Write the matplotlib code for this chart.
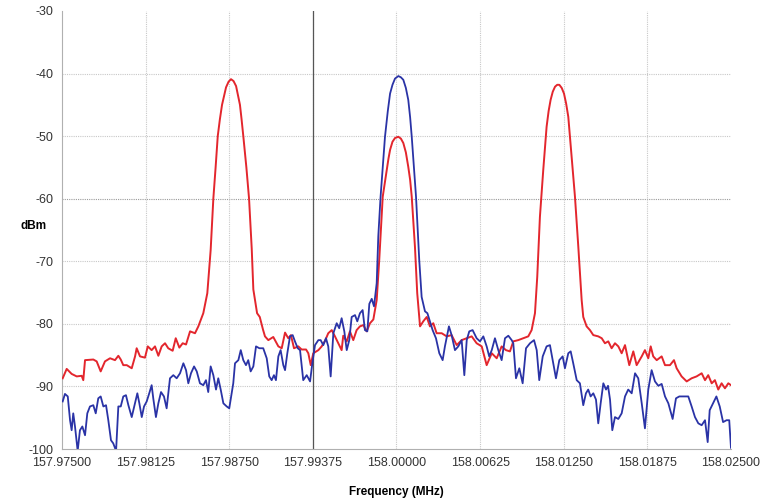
import numpy as np
import matplotlib
matplotlib.use("Agg")
import matplotlib.pyplot as plt

# offsets from the 158 MHz centre, in kHz, and level in dBm
red_khz = [-24.95, -24.65, -24.28, -23.90, -23.53, -23.41, -23.28, -22.66, -22.41, -22.11,
           -21.79, -21.41, -21.04, -20.79, -20.61, -20.42, -20.16, -19.79, -19.54, -19.42,
           -19.17, -18.80, -18.59, -18.30, -18.05, -17.80, -17.55, -17.30, -17.06, -16.73,
           -16.50, -16.23, -15.98, -15.73, -15.43, -15.06, -14.81, -14.44, -14.14, -13.89,
           -13.69, -13.52, -13.36, -13.20, -13.04, -12.74, -12.55, -12.37, -12.18, -11.99,
           -11.70, -11.58, -11.45, -11.22, -11.02, -10.82,
           -10.70, -10.42, -10.22, -9.98, -9.83, -9.58, -9.21, -8.83, -8.58, -8.33,
           -8.09, -7.89, -7.66, -7.34, -7.09, -6.76, -6.59, -6.41, -6.22, -5.84,
           -5.59, -5.34, -5.10, -4.84, -4.60, -4.35, -4.10, -3.98, -3.72, -3.48,
           -3.23, -2.98, -2.73, -2.48, -2.23, -1.98, -1.73, -1.48, -1.29, -1.03,
           -0.73, -0.60, -0.48, -0.30, -0.11, 0.14, 0.33, 0.51, 0.70, 0.88,
           1.02, 1.14, 1.38, 1.55, 1.76,
           2.00, 2.26, 2.50, 2.75, 3.00, 3.38, 3.75, 4.12, 4.50, 4.87,
           5.25, 5.62, 5.99, 6.37, 6.74, 7.12, 7.49, 7.86, 8.18, 8.48,
           8.73, 9.10, 9.48, 9.85, 10.10, 10.35, 10.52, 10.72, 10.97, 11.22,
           11.37, 11.52, 11.68, 11.85, 12.01, 12.17, 12.35, 12.52, 12.68, 12.84,
           13.09, 13.34, 13.59, 13.84, 13.96,
           14.21, 14.46, 14.71, 15.08, 15.34, 15.58, 15.83, 16.08, 16.33, 16.58,
           16.83, 17.08, 17.40, 17.70, 17.95, 18.33, 18.57, 18.82, 19.00, 19.19,
           19.45, 19.82, 20.07, 20.44, 20.74, 20.94, 21.31, 21.69, 22.06, 22.43,
           22.81, 23.06, 23.30, 23.56, 23.80, 24.05, 24.30, 24.55, 24.80, 25.00]
red_dbm = [-88.7, -87.2, -88.0, -88.4, -88.3, -89.0, -85.8, -85.7, -86.0, -87.6,
           -86.0, -85.5, -85.8, -85.1, -85.7, -86.6, -86.6, -87.1, -85.2, -83.9,
           -85.2, -85.4, -83.6, -84.2, -83.6, -85.1, -83.6, -83.1, -83.9, -84.3,
           -82.3, -83.8, -83.1, -83.3, -81.2, -81.5, -80.4, -78.3, -75.1, -68.2,
           -60.0, -55.0, -50.0, -47.3, -45.0, -42.2, -41.3, -40.9, -41.2, -42.0,
           -45.0, -47.3, -50.0, -55.0, -60.0, -68.0,
           -74.5, -78.3, -78.9, -80.9, -82.0, -82.6, -82.1, -83.6, -83.9, -81.4,
           -82.3, -81.8, -83.9, -83.6, -84.1, -84.1, -84.7, -86.6, -84.7, -84.2,
           -83.6, -82.7, -81.5, -81.0, -82.0, -83.1, -84.2, -81.9, -82.8, -81.2,
           -82.6, -81.0, -80.4, -80.2, -81.2, -79.9, -79.3, -76.2, -69.8, -59.7,
           -55.4, -53.6, -52.2, -50.9, -50.3, -50.1, -50.4, -51.1, -52.6, -54.9,
           -57.0, -59.7, -67.7, -75.1, -80.4,
           -79.6, -78.9, -80.4, -79.9, -81.5, -81.5, -82.0, -81.8, -83.4, -82.6,
           -82.3, -82.0, -83.1, -83.6, -86.6, -84.7, -85.5, -83.6, -84.2, -84.4,
           -82.8, -82.6, -82.3, -82.0, -81.0, -78.3, -72.5, -62.9, -55.4, -48.5,
           -46.0, -44.2, -42.9, -42.1, -41.8, -41.8, -42.3, -43.2, -44.8, -46.9,
           -53.3, -59.7, -67.7, -76.2, -78.9,
           -80.4, -81.0, -81.8, -82.0, -82.3, -83.1, -82.8, -83.9, -83.1, -83.6,
           -84.7, -83.4, -86.6, -84.4, -86.6, -85.2, -84.2, -85.5, -83.6, -85.2,
           -85.8, -85.2, -86.6, -86.6, -85.8, -87.1, -88.4, -89.2, -88.7, -88.4,
           -87.9, -89.0, -88.2, -89.5, -89.0, -90.5, -89.5, -90.3, -89.5, -89.8]

blue_khz = [-24.95, -24.78, -24.57, -24.40, -24.28, -24.16, -24.03, -23.83, -23.66, -23.48,
            -23.28, -23.11, -22.91, -22.66, -22.48, -22.29, -22.11, -21.91, -21.71, -21.54,
            -21.34, -21.17, -20.96, -20.79, -20.61, -20.42, -20.22, -20.04, -19.79, -19.60,
            -19.37, -19.22, -19.04, -18.87, -18.67, -18.48, -18.30, -18.18, -17.98, -17.80,
            -17.60, -17.38, -17.18, -16.93, -16.68, -16.43, -16.18, -15.93, -15.73, -15.56,
            -15.36, -15.13, -14.93, -14.69, -14.44, -14.24, -14.07, -13.89, -13.69, -13.49,
            -13.32, -13.14, -12.94, -12.69, -12.50, -12.32, -12.20, -12.07, -11.82, -11.64,
            -11.45, -11.25, -11.08, -10.90, -10.70, -10.50, -10.25, -9.96, -9.70, -9.51,
            -9.33, -9.16, -9.01, -8.83, -8.66, -8.46, -8.33, -8.16, -7.96, -7.76,
            -7.59, -7.38, -7.21, -6.97, -6.71, -6.46, -6.29, -6.09, -5.84, -5.67,
            -5.47, -5.27, -5.10, -4.92, -4.72, -4.47, -4.28, -4.10, -3.90, -3.72,
            -3.53, -3.35, -3.10, -2.93, -2.73, -2.53, -2.36, -2.18, -2.03, -1.85,
            -1.68, -1.48, -1.36, -1.19, -0.86, -0.65, -0.48, -0.30, -0.11, 0.14,
            0.33, 0.51, 0.70, 0.88, 1.02,
            1.14, 1.46, 1.70, 1.88, 2.13, 2.31, 2.50, 2.70, 2.95, 3.20,
            3.45, 3.62, 3.92, 4.12, 4.37, 4.62, 4.87, 5.07, 5.25, 5.44,
            5.69, 5.99, 6.24, 6.49, 6.74, 6.93, 7.12, 7.36, 7.61, 7.86,
            8.11, 8.36, 8.61, 8.73, 8.93, 9.18, 9.43, 9.68, 9.98, 10.28,
            10.48, 10.67, 10.93, 11.22, 11.47, 11.67, 11.92, 12.17, 12.42, 12.59,
            12.84, 13.02, 13.21, 13.47, 13.71, 13.96, 14.16, 14.33, 14.51, 14.71,
            14.91, 15.08, 15.26, 15.46, 15.66, 15.81, 15.96, 16.13, 16.33, 16.58,
            16.83, 17.08, 17.32, 17.58, 17.83, 18.07, 18.33, 18.57, 18.82, 19.07,
            19.32, 19.57, 19.82, 20.07, 20.32, 20.64, 20.89, 21.14, 21.43, 21.81,
            22.06, 22.31, 22.56, 22.81, 23.06, 23.26, 23.41, 23.66, 23.91, 24.16,
            24.41, 24.67, 24.87, 25.00]
blue_dbm = [-92.4, -91.2, -91.6, -95.4, -97.0, -94.3, -96.4, -100.3, -97.0, -96.4,
            -97.8, -94.3, -93.2, -93.0, -94.3, -91.9, -91.6, -93.2, -93.0, -95.4,
            -98.6, -99.1, -100.3, -93.2, -93.2, -91.6, -91.4, -93.0, -94.9, -93.2,
            -91.1, -92.7, -94.9, -93.2, -92.4, -91.1, -89.8, -91.9, -94.9, -92.7,
            -90.9, -91.6, -93.5, -88.7, -88.2, -88.7, -87.9, -86.3, -87.4, -89.5,
            -87.9, -86.8, -87.6, -89.5, -89.8, -89.0, -90.9, -86.8, -88.2, -90.5,
            -88.7, -90.5, -92.7, -93.2, -93.5, -91.1, -89.5, -86.3, -85.8, -84.2,
            -85.8, -86.6, -85.8, -87.6, -86.8, -83.6, -83.9, -83.9, -85.5, -88.4,
            -89.0, -88.2, -89.0, -85.2, -84.2, -86.6, -87.4, -84.7, -82.0, -81.8,
            -82.8, -83.9, -84.2, -89.0, -88.2, -89.2, -86.3, -83.4, -82.6, -82.6,
            -83.4, -82.3, -83.6, -88.4, -81.5, -79.9, -80.7, -79.1, -81.2, -84.2,
            -82.6, -78.9, -78.6, -79.6, -78.3, -77.8, -81.0, -81.2, -76.8, -76.0,
            -77.2, -73.5, -66.0, -59.7, -50.1, -46.0, -43.2, -41.8, -40.8, -40.4,
            -40.6, -41.0, -42.3, -44.2, -47.0,
            -50.1, -59.7, -69.8, -75.7, -78.0, -78.3, -79.6, -81.0, -82.3, -84.7,
            -85.8, -83.6, -80.4, -81.8, -84.2, -83.6, -82.6, -88.2, -82.6, -81.2,
            -81.0, -82.3, -82.8, -82.0, -83.6, -85.2, -84.2, -82.3, -84.2, -85.8,
            -82.3, -81.9, -82.6, -83.1, -88.7, -87.1, -89.5, -83.9, -83.1, -82.6,
            -84.2, -89.0, -85.2, -83.6, -83.4, -85.8, -88.7, -85.8, -85.2, -87.1,
            -84.7, -84.4, -86.3, -89.0, -89.5, -93.0, -91.1, -90.5, -91.6, -91.1,
            -92.1, -95.9, -92.7, -89.5, -90.5, -89.9, -92.1, -97.0, -94.9, -95.2,
            -94.3, -91.6, -90.5, -91.1, -87.9, -88.7, -92.7, -96.7, -90.5, -87.4,
            -89.2, -89.9, -89.6, -91.6, -92.7, -95.2, -91.9, -91.6, -91.6, -91.6,
            -93.2, -94.9, -95.9, -96.2, -95.4, -98.9, -93.8, -92.7, -91.6, -93.2,
            -95.7, -95.4, -95.4, -99.8]

x_ticks = [157.97500, 157.98125, 157.98750, 157.99375, 158.00000,
           158.00625, 158.01250, 158.01875, 158.02500]
y_ticks = [-100, -90, -80, -70, -60, -50, -40, -30]


def main():
    plt.rcParams['font.family'] = ['Liberation Sans', 'DejaVu Sans']
    plt.rcParams['axes.unicode_minus'] = False
    fig = plt.figure(figsize=(7.6, 4.99), dpi=100)
    ax = fig.add_axes([0.0816, 0.1002, 0.8802, 0.8778])

    red_f = 158.0 + np.array(red_khz) / 1000.0
    blue_f = 158.0 + np.array(blue_khz) / 1000.0

    ax.plot(red_f, red_dbm, color='#e3262d', lw=1.4, zorder=3, solid_joinstyle='round')
    ax.plot(blue_f, blue_dbm, color='#2a33a6', lw=1.3, zorder=4, solid_joinstyle='round')

    ax.set_xlim(x_ticks[0], x_ticks[-1])
    ax.set_ylim(-100, -30)
    ax.set_xticks(x_ticks)
    ax.set_xticklabels(['%.5f' % v for v in x_ticks])
    ax.set_yticks(y_ticks)
    ax.tick_params(length=0, labelsize=9, colors='#333333', pad=6)

    # dotted light grid, no line on top/right edge
    for y in y_ticks[1:-1]:
        c = '#9a9a9a' if y == -60 else '#c8c8c8'
        ax.axhline(y, color=c, lw=0.8, ls=(0, (1, 1)), zorder=1)
    for x in x_ticks[1:-1]:
        ax.axvline(x, color='#c8c8c8', lw=0.8, ls=(0, (1, 1)), zorder=1)
    ax.axvline(x_ticks[3], color='#555555', lw=0.9, zorder=2)

    for side in ['top', 'right']:
        ax.spines[side].set_visible(False)
    for side in ['left', 'bottom']:
        ax.spines[side].set_color('#b0b0b0')
        ax.spines[side].set_linestyle((0, (1, 1)))
        ax.spines[side].set_linewidth(0.8)

    ax.set_xlabel('Frequency (MHz)', fontsize=8.5, fontweight='bold', labelpad=12)
    fig.text(0.027, 0.548, 'dBm', fontsize=8.5, fontweight='bold', va='center', ha='left')

    fig.savefig('out.png', dpi=100)


if __name__ == "__main__":
    main()
